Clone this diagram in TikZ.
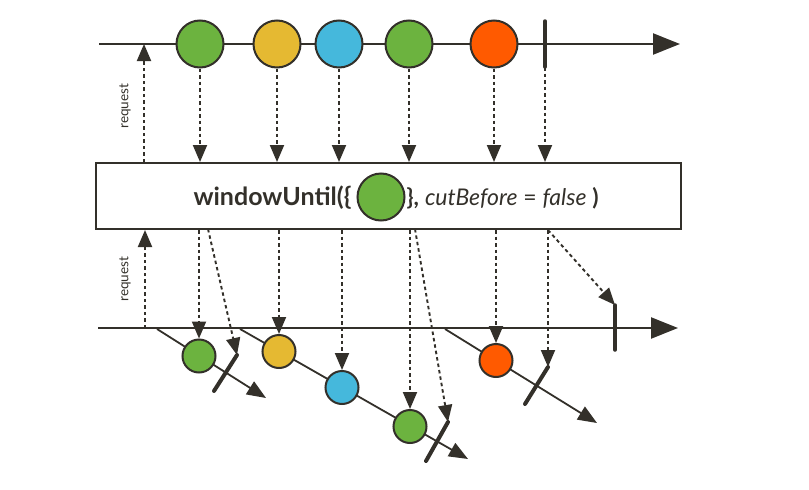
\documentclass[tikz,border=0pt]{standalone}
\usepackage{fontspec}
\setmainfont{Lato}
\usetikzlibrary{arrows.meta}
\definecolor{ink}{RGB}{51,48,42}
\definecolor{mgreen}{RGB}{108,179,63}
\definecolor{myellow}{RGB}{229,185,50}
\definecolor{mblue}{RGB}{69,184,220}
\definecolor{morange}{RGB}{255,90,0}
\tikzset{
  marble/.style={circle,draw=ink,line width=2pt,minimum size=47pt,inner sep=0pt},
  smallmarble/.style={marble,minimum size=33pt},
  timeline/.style={ink,line width=2.3pt,-{Triangle[length=27pt,width=21pt]}},
  windowline/.style={ink,line width=1.8pt,-{Triangle[length=19pt,width=15pt]}},
  emit/.style={ink,line width=1.9pt,dash pattern=on 3.5pt off 3pt,-{Triangle[length=17pt,width=14pt]}},
  stopbar/.style={ink,line width=4pt,line cap=round},
  reqlabel/.style={rotate=90,text=ink,font=\fontsize{13.5}{16}\selectfont}
}
\begin{document}
\begin{tikzpicture}[x=1pt,y=-1pt]
\useasboundingbox (0,0) rectangle (809,490);

% source timeline
\coordinate (srcstart) at (99,44);
\coordinate (srcend) at (680,44);
\draw[timeline] (srcstart) -- (srcend);
\node[marble,fill=mgreen] (s1) at (200,44) {};
\node[marble,fill=myellow] (s2) at (277,44) {};
\node[marble,fill=mblue] (s3) at (339,44) {};
\node[marble,fill=mgreen] (s4) at (409,44) {};
\node[marble,fill=morange] (s5) at (494,44) {};
\coordinate (sstopa) at (545,21);
\coordinate (sstopb) at (545,67);
\draw[stopbar,line width=3.5pt] (sstopa) -- (sstopb);

% operator box
\node[draw=ink,line width=2pt,minimum width=585pt,minimum height=66pt,inner sep=0pt] (op) at (388.5,196) {};
\node[marble,fill=mgreen] (pred) at (381,197) {};
\node[anchor=base east,text=ink,font=\fontsize{25}{30}\selectfont\bfseries,inner sep=0pt] (optl) at ([xshift=-5pt]pred.west |- 0,205) {windowUntil(\{};
\node[anchor=base west,text=ink,font=\fontsize{23}{28}\selectfont,inner sep=1pt] (optr) at (pred.east |- 0,205) {\textbf{\},} \textit{cutBefore} = \textit{false} \textbf{)}};

% top emissions
\foreach \m in {s1,s2,s3,s4,s5}
  \draw[emit] (\m.south) -- (\m.south |- op.north);
\draw[emit] (sstopb) -- (sstopb |- op.north);
\coordinate (reqtop) at (144,44);
\draw[emit] (reqtop |- op.north) -- (reqtop);
\node[reqlabel] (req1) at (125,106) {request};

% result timeline
\coordinate (resstart) at (98,328);
\coordinate (resend) at (678,328);
\draw[timeline] (resstart) -- (resend);
\coordinate (resstopa) at (615,305);
\coordinate (resstopb) at (615,350);
\draw[stopbar,line width=3.5pt] (resstopa) -- (resstopb);
\coordinate (reqbot) at (145,328);
\draw[emit] (reqbot) -- (reqbot |- op.south);
\node[reqlabel] (req2) at (125,279) {request};

% window 1
\coordinate (w1start) at (157,329);
\coordinate (w1end) at (266,398);
\draw[windowline] (w1start) -- (w1end);
\node[smallmarble,fill=mgreen] (w1a) at (199,356) {};
\coordinate (w1stopa) at (237,355);
\coordinate (w1stopb) at (214,391);
\draw[stopbar] (w1stopa) -- (w1stopb);

% window 2
\coordinate (w2start) at (240,329);
\coordinate (w2end) at (468,459);
\draw[windowline] (w2start) -- (w2end);
\node[smallmarble,fill=myellow] (w2a) at (279,351.5) {};
\node[smallmarble,fill=mblue] (w2b) at (342,387.5) {};
\node[smallmarble,fill=mgreen] (w2c) at (410,426.5) {};
\coordinate (w2stopa) at (448,422);
\coordinate (w2stopb) at (426,461);
\draw[stopbar] (w2stopa) -- (w2stopb);

% window 3
\coordinate (w3start) at (445,329);
\coordinate (w3end) at (597,423);
\draw[windowline] (w3start) -- (w3end);
\node[smallmarble,fill=morange] (w3a) at (496,360.5) {};
\coordinate (w3stopa) at (548,367);
\coordinate (w3stopb) at (525,404);
\draw[stopbar] (w3stopa) -- (w3stopb);

% bottom emissions
\draw[emit] (w1a.north |- op.south) -- (w1a.north);
\draw[emit] (208,229) -- (w1stopa);
\draw[emit] (w2a.north |- op.south) -- (w2a.north);
\draw[emit] (w2b.north |- op.south) -- (w2b.north);
\draw[emit] (w2c.north |- op.south) -- (w2c.north);
\draw[emit] (415,229) -- (w2stopa);
\draw[emit] (w3a.north |- op.south) -- (w3a.north);
\draw[emit] (w3stopa |- op.south) -- (w3stopa);
\draw[emit] (w3stopa |- op.south) -- (resstopa);
\end{tikzpicture}
\end{document}
